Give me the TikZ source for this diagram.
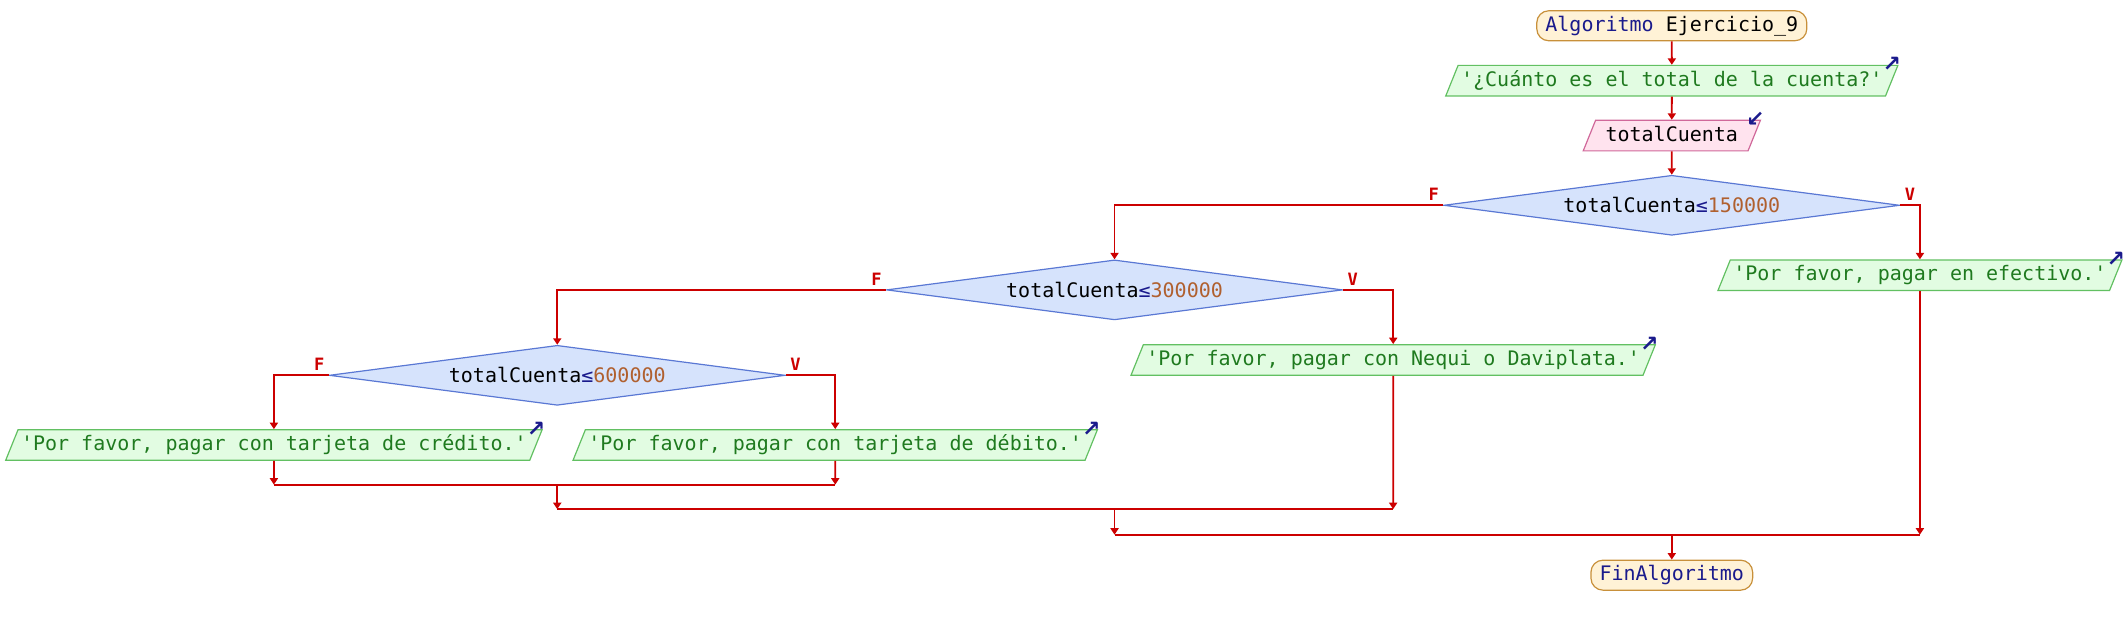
\documentclass[tikz,border=0pt]{standalone}
\usepackage{fontspec}
\setmonofont{DejaVu Sans Mono}
\newfontfamily\iconfont{DejaVu Sans}
\usetikzlibrary{shapes.geometric, arrows.meta}

\definecolor{flowred}{HTML}{CC0000}
\definecolor{termfill}{HTML}{FFF2D6}
\definecolor{termdraw}{HTML}{C8903A}
\definecolor{outfill}{HTML}{E2FCE2}
\definecolor{outdraw}{HTML}{62C062}
\definecolor{strtext}{HTML}{1F7A1F}
\definecolor{infill}{HTML}{FFE3EE}
\definecolor{indraw}{HTML}{D0689A}
\definecolor{condfill}{HTML}{D6E3FC}
\definecolor{conddraw}{HTML}{5A78D4}
\definecolor{numtext}{HTML}{B0602F}
\definecolor{kwtext}{HTML}{1A1A8C}

\newcommand{\cuenta}[1]{totalCuenta{\color{kwtext}≤}{\color{numtext}#1}}

\begin{document}
\begin{tikzpicture}[x=0.678pt, y=-0.678pt, font=\ttfamily\fontsize{10}{12}\selectfont]

\tikzset{term/.style = {shape=rectangle, rounded corners=6pt, draw=termdraw, fill=termfill, line width=0.6pt, minimum height=15pt, inner xsep=4.3pt, inner ysep=0pt, text=kwtext}}
\tikzset{outbox/.style = {trapezium, trapezium left angle=68, trapezium right angle=112, draw=outdraw, fill=outfill, line width=0.6pt, text height=8pt, text depth=2.5pt, inner xsep=1.5pt, inner ysep=2.4pt, text=strtext}}
\tikzset{inbox/.style = {outbox, draw=indraw, fill=infill, text=black, inner xsep=5pt}}
\tikzset{cond/.style = {diamond, aspect=7.6, draw=conddraw, fill=condfill, line width=0.6pt, minimum width=228pt, minimum height=30pt, inner sep=0pt}}
\tikzset{edge/.style = {draw=flowred, line width=0.9pt, -{Triangle[length=3.2pt,width=4pt]}}}
\tikzset{merge/.style = {draw=flowred, line width=1.1pt}}
\tikzset{flag/.style = {text=flowred, font=\ttfamily\bfseries\fontsize{8.5}{10}\selectfont, inner sep=2pt}}
\tikzset{icon/.style = {text=kwtext, font=\iconfont\bfseries\fontsize{11}{12}\selectfont, inner sep=0pt}}

\useasboundingbox (0,0) rectangle (1568,461);

%blocks
\node[term] (start) at (1233,19) {Algoritmo {\color{black}Ejercicio\_9}};
\node[outbox] (ask) at (1233,59.5) {'¿Cuánto es el total de la cuenta?'};
\node[inbox] (read) at (1233,100) {totalCuenta};
\node[cond] (c1) at (1233,151.4) {\cuenta{150000}};
\node[outbox] (cash) at (1416,203) {'Por favor, pagar en efectivo.'};
\node[cond] (c2) at (822,213.8) {\cuenta{300000}};
\node[outbox] (nequi) at (1027.5,265.5) {'Por favor, pagar con Nequi o Daviplata.'};
\node[cond] (c3) at (411,276.8) {\cuenta{600000}};
\node[outbox] (credit) at (202,328.2) {'Por favor, pagar con tarjeta de crédito.'};
\node[outbox] (debit) at (616,328.2) {'Por favor, pagar con tarjeta de débito.'};
\node[term] (stop) at (1233,424.2) {FinAlgoritmo};

%io marks
\node[icon] (askicon) at ([xshift=-3.5pt]ask.top right corner) {↗};
\node[icon] (readicon) at ([xshift=-3pt]read.top right corner) {↙};
\node[icon] (cashicon) at ([xshift=-3.5pt]cash.top right corner) {↗};
\node[icon] (nequiicon) at ([xshift=-3.5pt]nequi.top right corner) {↗};
\node[icon] (crediticon) at ([xshift=-3.5pt]credit.top right corner) {↗};
\node[icon] (debiticon) at ([xshift=-3.5pt]debit.top right corner) {↗};

%branch flags
\node[flag, above left] (c1f) at (c1.west) {F};
\node[flag, above right] (c1v) at (c1.east) {V};
\node[flag, above left] (c2f) at (c2.west) {F};
\node[flag, above right] (c2v) at (c2.east) {V};
\node[flag, above left] (c3f) at (c3.west) {F};
\node[flag, above right] (c3v) at (c3.east) {V};

%joins
\coordinate (m3l) at (202,357.4);
\coordinate (m3c) at (411,357.4);
\coordinate (m3r) at (616,357.4);
\coordinate (m2l) at (411,375.5);
\coordinate (m2c) at (822,375.5);
\coordinate (m2r) at (1027.5,375.5);
\coordinate (m1l) at (822,394.3);
\coordinate (m1c) at (1233,394.3);
\coordinate (m1r) at (1416,394.3);

%flow
\draw[edge] (start) -- (ask);
\draw[edge] (ask) -- (read);
\draw[edge] (read) -- (c1);
\draw[edge] (c1.east) -| (cash);
\draw[edge] (c1.west) -| (c2);
\draw[edge] (c2.east) -| (nequi);
\draw[edge] (c2.west) -| (c3);
\draw[edge] (c3.east) -| (debit);
\draw[edge] (c3.west) -| (credit);
\draw[edge] (credit) -- (m3l);
\draw[edge] (debit) -- (m3r);
\draw[merge] (m3l) -- (m3r);
\draw[edge] (m3c) -- (m2l);
\draw[edge] (nequi) -- (m2r);
\draw[merge] (m2l) -- (m2r);
\draw[edge] (m2c) -- (m1l);
\draw[edge] (cash) -- (m1r);
\draw[merge] (m1l) -- (m1r);
\draw[edge] (m1c) -- (stop);

\end{tikzpicture}
\end{document}
